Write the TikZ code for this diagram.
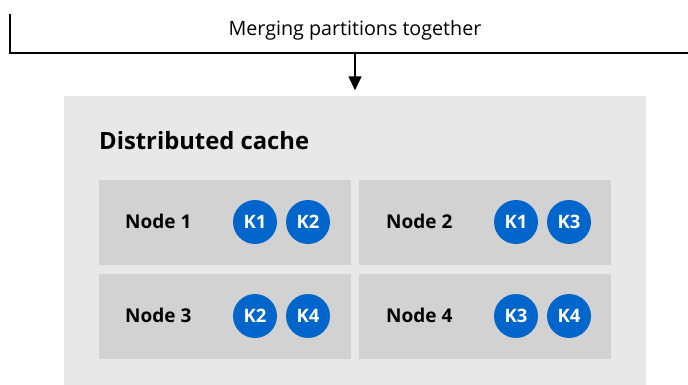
\documentclass[tikz,border=0pt]{standalone}
\usepackage{fontspec}
\setmainfont{Open Sans}
\usepackage{tikz}
\usetikzlibrary{arrows.meta}
\definecolor{cachegray}{HTML}{E8E8E8}
\definecolor{nodegray}{HTML}{D2D2D2}
\definecolor{keyblue}{HTML}{0066CC}
\tikzstyle{cachebox}=[fill=cachegray,draw=none,inner sep=0pt]
\tikzstyle{nodebox}=[fill=nodegray,draw=none,inner sep=0pt,minimum width=252pt,minimum height=85pt]
\tikzstyle{nodelabel}=[anchor=west,inner sep=0pt,font=\fontsize{19}{20}\selectfont\bfseries]
\tikzstyle{keycircle}=[circle,fill=keyblue,text=white,inner sep=0pt,minimum size=44pt,font=\fontsize{18.5}{20}\selectfont\bfseries]

\begin{document}
\begin{tikzpicture}[x=1pt,y=-1pt]
		\useasboundingbox (0,0) rectangle (688,385);
		% merge bracket
		\node[font=\fontsize{19.7}{22}\selectfont] (title) at (355,30) {Merging partitions together};
		\coordinate (bracketleft) at (10,14);
		\coordinate (bracketcorner) at (10,53);
		\coordinate (bracketright) at (688,53);
		\coordinate (split) at (355,53);
		\draw[line width=1.5pt] (bracketleft) -- (bracketcorner) -- (bracketright);
		% cache
		\node[cachebox,minimum width=582pt,minimum height=289pt] (cache) at (355,240.5) {};
		\draw[line width=1.5pt,-{Triangle[width=13pt,length=14pt]},shorten >=5.5pt] (split) -- (cache.north);
		\node[anchor=west,inner sep=0pt,font=\fontsize{23.8}{26}\selectfont\bfseries] (cachetitle) at (99,141) {Distributed cache};
		% nodes
		\node[nodebox] (n1) at (225,222.5) {};
		\node[nodebox] (n2) at (485,222.5) {};
		\node[nodebox] (n3) at (225,316.5) {};
		\node[nodebox] (n4) at (485,316.5) {};
		\node[nodelabel] (n1label) at (125,221) {Node 1};
		\node[nodelabel] (n2label) at (386,221) {Node 2};
		\node[nodelabel] (n3label) at (125,315) {Node 3};
		\node[nodelabel] (n4label) at (386,315) {Node 4};
		\node[keycircle] (n1k1) at (255,222) {K1};
		\node[keycircle] (n1k2) at (308,222) {K2};
		\node[keycircle] (n2k1) at (516,222) {K1};
		\node[keycircle] (n2k3) at (569,222) {K3};
		\node[keycircle] (n3k2) at (255,316) {K2};
		\node[keycircle] (n3k4) at (308,316) {K4};
		\node[keycircle] (n4k3) at (516,316) {K3};
		\node[keycircle] (n4k4) at (569,316) {K4};
	\end{tikzpicture}
\end{document}
